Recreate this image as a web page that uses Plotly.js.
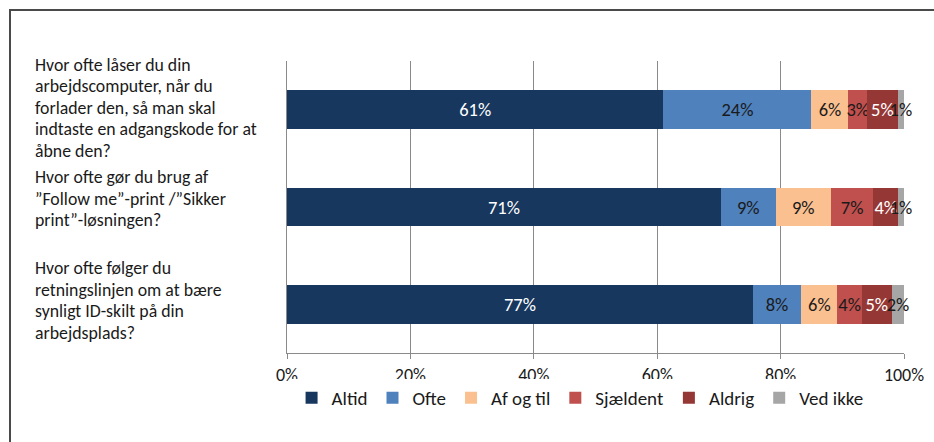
<!DOCTYPE html>
<html>
<head>
<meta charset="utf-8">
<script src="https://cdn.plot.ly/plotly-3.0.1.min.js"></script>
<style>
  html, body { margin: 0; padding: 0; background: #ffffff; }
  #wrap { position: relative; width: 934px; height: 442px; overflow: hidden; }
  #frame { position: absolute; left: 9px; top: 9px; width: 940px; height: 450px;
           border-left: 2px solid #4a4a4a; border-top: 2px solid #4a4a4a; pointer-events: none; }
  #chart { position: absolute; left: 0; top: 0; width: 934px; height: 442px; }
</style>
</head>
<body>
<div id="wrap">
  <div id="chart"></div>
  <div id="frame"></div>
</div>
<script>
// Survey questions, split into the lines they are printed on (top to bottom)
const questionLines = [
  ["Hvor ofte låser du din", "arbejdscomputer, når du", "forlader den, så man skal",
   "indtaste en adgangskode for at", "åbne den?"],
  ["Hvor ofte gør du brug af", "”Follow me”-print /”Sikker", "print”-løsningen?"],
  ["Hvor ofte følger du", "retningslinjen om at bære", "synligt ID-skilt på din", "arbejdsplads?"]
];
const questionKeys = ["q1", "q2", "q3"];

// Answer categories
const answers = ["Altid", "Ofte", "Af og til", "Sjældent", "Aldrig", "Ved ikke"];

// Percentages per answer, one value per question
const altid     = [61, 71, 77];
const ofte      = [24, 9, 8];
const afOgTil   = [6, 9, 6];
const sjaeldent = [3, 7, 4];
const aldrig    = [5, 4, 5];
const vedIkke   = [1, 1, 2];

const seriesValues = [altid, ofte, afOgTil, sjaeldent, aldrig, vedIkke];
const seriesColors = ["#17375e", "#4f81bd", "#fac090", "#c0504d", "#953735", "#a6a6a6"];
const labelColors  = ["#ffffff", "#1a1a1a", "#1a1a1a", "#1a1a1a", "#ffffff", "#1a1a1a"];

const tickVals = [0, 20, 40, 60, 80, 100];
const tickText = ["0%", "20%", "40%", "60%", "80%", "100%"];

const FONT = "Carlito, Lato, 'Liberation Sans', sans-serif";

// Stacked horizontal bars, normalised so each row fills 100 %
const traces = answers.map((name, i) => ({
  type: "bar",
  orientation: "h",
  name: name,
  y: questionKeys,
  x: seriesValues[i],
  text: seriesValues[i].map(v => v + "%"),
  textposition: "inside",
  insidetextanchor: "middle",
  textangle: 0,
  constraintext: "none",
  cliponaxis: false,
  insidetextfont: { family: FONT, size: 18.5, color: labelColors[i] },
  marker: { color: seriesColors[i], line: { width: 0 } },
  width: 0.4,
  hoverinfo: "name+text"
}));

// Left-aligned question text beside each bar, one annotation per line
const LINE_STEP = 21.5;
const blockShift = [2, 8.5, 4];
const annotations = [];
questionLines.forEach((lines, i) => {
  const n = lines.length;
  lines.forEach((line, k) => {
    annotations.push({
      xref: "paper", yref: "y",
      x: 0, y: questionKeys[i],
      xshift: -254,
      yshift: blockShift[i] + ((n - 1) / 2 - k) * LINE_STEP,
      xanchor: "left", yanchor: "middle",
      align: "left",
      showarrow: false,
      text: line,
      font: { family: FONT, size: 17.8, color: "#1a1a1a" }
    });
  });
});

const layout = {
  width: 934, height: 442,
  margin: { l: 287, r: 30, t: 61, b: 89 },
  paper_bgcolor: "#ffffff",
  plot_bgcolor: "#ffffff",
  barmode: "stack",
  barnorm: "percent",
  showlegend: true,
  legend: {
    orientation: "h",
    x: 0.475, xanchor: "center",
    y: -0.154, yanchor: "middle",
    traceorder: "normal",
    font: { family: FONT, size: 19, color: "#1a1a1a" },
    itemclick: false
  },
  xaxis: {
    range: [0, 100],
    tickvals: tickVals,
    ticktext: tickText,
    showgrid: true,
    gridcolor: "#8a8a8a",
    gridwidth: 1,
    zeroline: false,
    showline: true,
    linecolor: "#8a8a8a",
    ticks: "outside",
    ticklen: 5,
    tickcolor: "#8a8a8a",
    tickfont: { family: FONT, size: 18, color: "#1a1a1a" },
    fixedrange: true
  },
  yaxis: {
    type: "category",
    categoryorder: "array",
    categoryarray: questionKeys,
    range: [2.5, -0.5],
    autorange: false,
    showticklabels: false,
    showgrid: false,
    zeroline: false,
    showline: true,
    linecolor: "#8a8a8a",
    ticks: "",
    fixedrange: true
  },
  annotations: annotations
};

Plotly.newPlot("chart", traces, layout, { displayModeBar: false, staticPlot: true });
</script>
</body>
</html>
